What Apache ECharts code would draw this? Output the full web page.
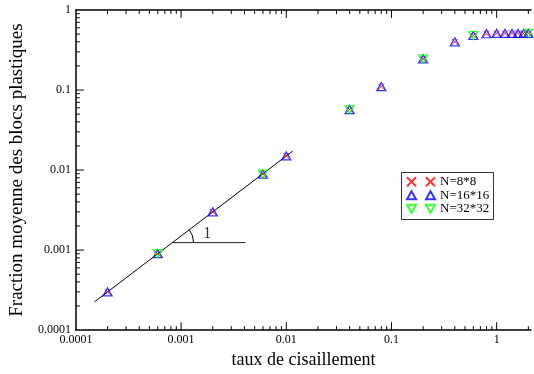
<!DOCTYPE html>
<html><head><meta charset="utf-8">
<script src="https://cdn.jsdelivr.net/npm/echarts@6/dist/echarts.min.js"></script>
<style>html,body{margin:0;padding:0;background:#fff}#c{width:534px;height:374px}</style>
</head><body><div id="c"></div>
<script>
// ---- data ----
const xShear = [0.0002, 0.0006, 0.002, 0.006, 0.01, 0.04, 0.08, 0.2, 0.4, 0.6, 0.8, 1.0, 1.2, 1.4, 1.6, 1.8, 2.0];
const fracN8 = [0.0003, 0.0009, 0.003, 0.0089, 0.015, 0.057, 0.11, 0.245, 0.40, 0.48, 0.505, 0.51, 0.51, 0.51, 0.51, 0.51, 0.51];
const fracN16 = [0.0003, 0.0009, 0.003, 0.0089, 0.015, 0.057, 0.11, 0.245, 0.40, 0.48, 0.505, 0.51, 0.51, 0.51, 0.51, 0.51, 0.51];
const xShearN32 = [0.0006, 0.006, 0.04, 0.2, 0.6, 2.0];
const fracN32 = [0.0009, 0.0089, 0.057, 0.245, 0.48, 0.51];
const seriesNames = ['N=8*8', 'N=16*16', 'N=32*32'];
const slopeLineX = [0.00015, 0.0115];
const slopeLineY = [0.000225, 0.01725];
const refLineX = [0.00083, 0.0041];
const refLineY = [0.00124, 0.00124];
const slopeText = ['1'];
const slopeTextPos = [0.00177, 0.0016];
const xTickLabels = ['0.0001', '0.001', '0.01', '0.1', '1'];
const yTickLabels = ['0.0001', '0.001', '0.01', '0.1', '1'];
const xTitle = 'taux de cisaillement';
const yTitle = 'Fraction moyenne des blocs plastiques';

const FONT = 'Liberation Serif';
const X_MIN = 0.0001, X_MAX = 2.12, Y_MIN = 0.0001, Y_MAX = 1;
const GRID = { left: 74, right: 0, top: 10, bottom: 39 };
const W = 534, H = 374;
const zip = (a, b) => a.map((v, i) => [v, b[i]]);

// tick positions (decades and their 2..9 sub-divisions)
const majorX = [0.001, 0.01, 0.1, 1];
const majorY = [0.001, 0.01, 0.1];
function minorOf(eFrom, eTo, maxV) {
  const out = [];
  for (let e = eFrom; e <= eTo; e++) for (let k = 2; k <= 9; k++) {
    const v = +(k * Math.pow(10, e)).toPrecision(3);
    if (v < maxV) out.push(v);
  }
  return out;
}
const minorX = minorOf(-4, 0, X_MAX);
const minorY = minorOf(-4, -1, Y_MAX);
const MAJOR_LEN = 8, MINOR_LEN = 4;
// tick length expressed as a factor along each log axis
const pxPerDecX = (W - GRID.left - GRID.right) / Math.log10(X_MAX / X_MIN);
const pxPerDecY = (H - GRID.top - GRID.bottom) / Math.log10(Y_MAX / Y_MIN);
const fx = len => Math.pow(10, len / pxPerDecX);
const fy = len => Math.pow(10, len / pxPerDecY);

function fmt(labels) {
  return function (v) {
    const l = Math.log10(v), e = Math.round(l);
    if (Math.abs(l - e) > 1e-6) return '';
    return labels[e + 4] || '';
  };
}
function xAx(pos, showLabel) {
  return {
    type: 'log', logBase: 10, min: X_MIN, max: X_MAX, position: pos,
    axisLine: { show: true, onZero: false, lineStyle: { color: '#000', width: 1.5 } },
    axisTick: { show: false },
    axisLabel: { show: showLabel, formatter: fmt(xTickLabels), fontFamily: FONT, fontSize: 12, color: '#000', margin: 4 },
    splitLine: { show: false }, minorSplitLine: { show: false },
    name: showLabel ? xTitle : '', nameLocation: 'middle', nameGap: 12,
    nameTextStyle: { fontFamily: FONT, fontSize: 18, color: '#000' }
  };
}
function tickSeries(points) {
  return {
    type: 'line', data: points, symbol: 'none', silent: true, clip: false, z: 6,
    lineStyle: { color: '#000', width: 1 }, tooltip: { show: false }
  };
}
const tickSeriesList = [];
majorX.map(v => [v, MAJOR_LEN]).concat(minorX.map(v => [v, MINOR_LEN])).forEach(([v, len]) => {
  tickSeriesList.push(tickSeries([[v, Y_MIN], [v, Y_MIN * fy(len)]]));
  tickSeriesList.push(tickSeries([[v, Y_MAX], [v, Y_MAX / fy(len)]]));
});
majorY.map(v => [v, MAJOR_LEN]).concat(minorY.map(v => [v, MINOR_LEN])).forEach(([v, len]) => {
  tickSeriesList.push(tickSeries([[X_MIN, v], [X_MIN * fx(len), v]]));
});

const chart = echarts.init(document.getElementById('c'), null, { renderer: 'canvas' });
const option = {
  backgroundColor: '#fff',
  animation: false,
  grid: Object.assign({ containLabel: false }, GRID),
  xAxis: [xAx('bottom', true), xAx('top', false)],
  yAxis: [{
    type: 'log', logBase: 10, min: Y_MIN, max: Y_MAX, position: 'left',
    axisLine: { show: true, onZero: false, lineStyle: { color: '#000', width: 1.5 } },
    axisTick: { show: false },
    axisLabel: { formatter: fmt(yTickLabels), fontFamily: FONT, fontSize: 12, color: '#000', margin: 5 },
    splitLine: { show: false }, minorSplitLine: { show: false },
    name: yTitle, nameLocation: 'middle', nameGap: 41,
    nameTextStyle: { fontFamily: FONT, fontSize: 19, color: '#000' }
  }],
  legend: [
    {
      orient: 'vertical', left: 406, top: 175, padding: 0, itemGap: 0,
      itemWidth: 9, itemHeight: 9, selectedMode: false,
      data: seriesNames, formatter: () => ' ',
      textStyle: { fontFamily: FONT, fontSize: 13, lineHeight: 13.5, color: '#000' }
    },
    {
      orient: 'vertical', left: 425, top: 175, padding: 0, itemGap: 0,
      itemWidth: 9, itemHeight: 9, selectedMode: false,
      data: seriesNames,
      textStyle: { fontFamily: FONT, fontSize: 13, lineHeight: 13.5, color: '#000' }
    }
  ],
  graphic: [{
    type: 'rect', left: 401, top: 172, z: 1,
    shape: { width: 92, height: 47 },
    style: { fill: '#fff', stroke: '#333', lineWidth: 1 }
  }],
  series: tickSeriesList.concat([
    {
      type: 'line', data: zip(slopeLineX, slopeLineY), symbol: 'none', silent: true,
      lineStyle: { color: '#000', width: 1 }, z: 1
    },
    {
      type: 'line', data: zip(refLineX, refLineY), symbol: 'none', silent: true,
      lineStyle: { color: '#222', width: 1 }, z: 1
    },
    {
      type: 'custom', silent: true, z: 1,
      data: [[refLineX[0], refLineY[0]]],
      renderItem: function (params, api) {
        const p = api.coord([api.value(0), api.value(1)]);
        const a = api.coord([slopeLineX[0], slopeLineY[0]]);
        const b = api.coord([slopeLineX[1], slopeLineY[1]]);
        const ang = Math.atan2(a[1] - b[1], b[0] - a[0]);
        return {
          type: 'arc',
          shape: { cx: p[0], cy: p[1], r: 21, startAngle: -ang, endAngle: 0, clockwise: true },
          style: { stroke: '#000', fill: null, lineWidth: 1 }
        };
      }
    },
    {
      type: 'scatter', data: [slopeTextPos], symbolSize: 0, silent: true,
      label: { show: true, position: 'inside', formatter: slopeText[0], fontFamily: FONT, fontSize: 16, color: '#000' }
    },
    {
      name: seriesNames[0], type: 'scatter', data: zip(xShear, fracN8), silent: true, z: 3,
      symbol: 'path://M0,0L10,10M10,0L0,10', symbolSize: 6,
      itemStyle: { color: '#ff0000', borderColor: '#ff0000', borderWidth: 1 }
    },
    {
      name: seriesNames[1], type: 'scatter', data: zip(xShear, fracN16), silent: true, z: 4,
      symbol: 'path://M5,0L10,9L0,9Z', symbolSize: [9, 8],
      itemStyle: { color: 'rgba(0,0,0,0)', borderColor: '#0000ff', borderWidth: 1.3 }
    },
    {
      name: seriesNames[2], type: 'scatter', data: zip(xShearN32, fracN32), silent: true, z: 5,
      symbol: 'path://M0,0L10,0L5,9Z', symbolSize: [9, 8],
      itemStyle: { color: 'rgba(0,0,0,0)', borderColor: '#00ff00', borderWidth: 1.3 }
    }
  ])
};
chart.setOption(option);
</script>
</body></html>
